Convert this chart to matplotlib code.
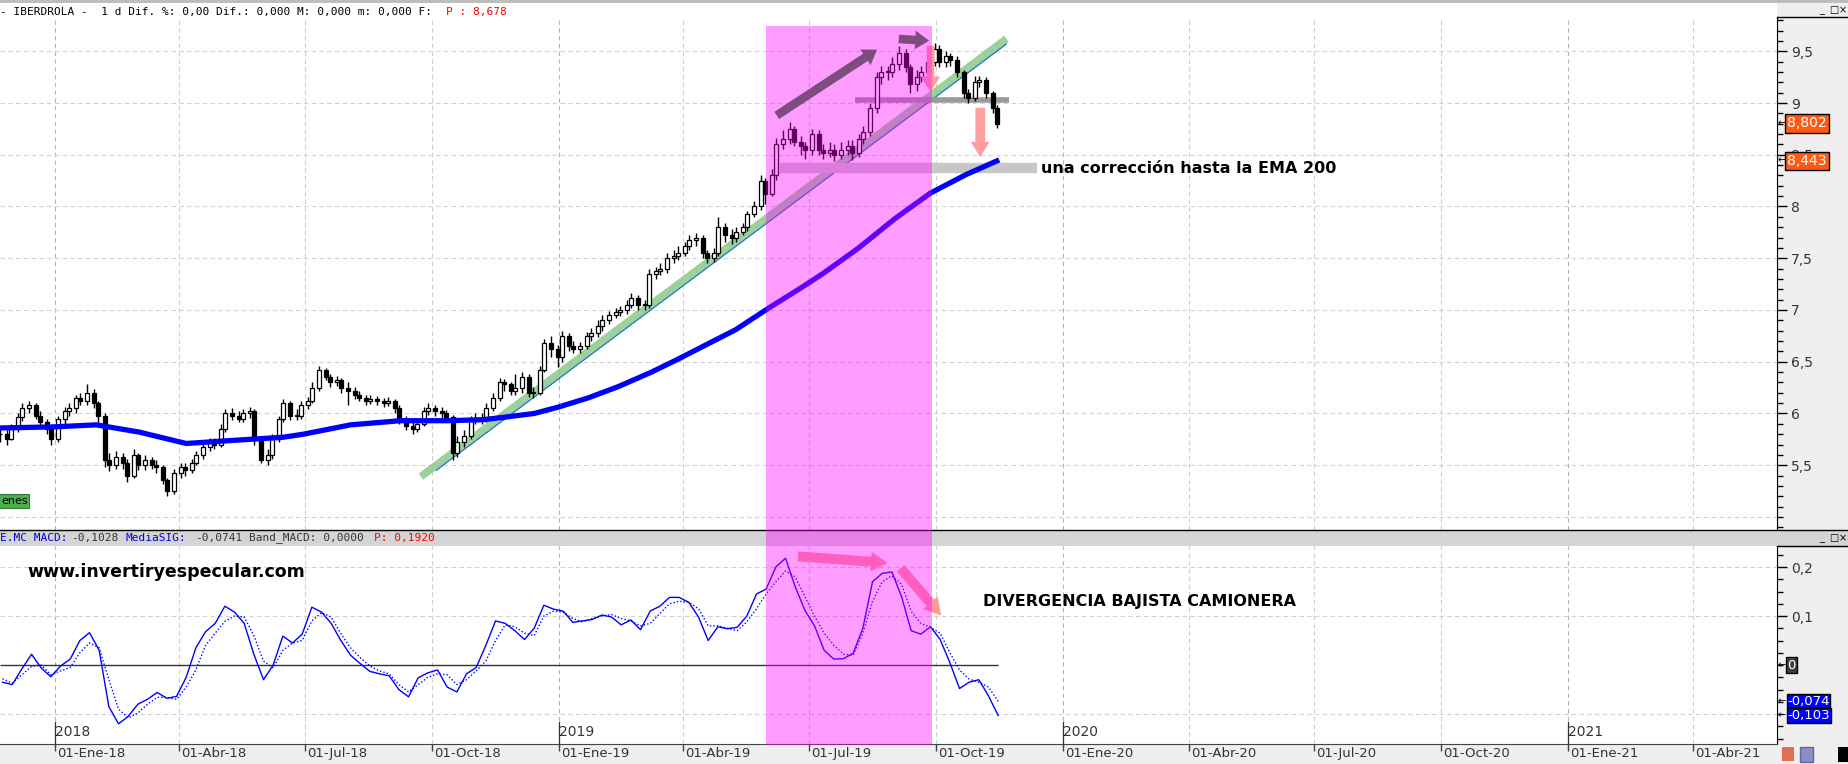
import matplotlib
matplotlib.use('Agg')
import matplotlib.pyplot as plt
import matplotlib.dates as mdates
import matplotlib.transforms as mtransforms
from matplotlib.patches import Rectangle, FancyArrowPatch
from matplotlib.ticker import FuncFormatter, MultipleLocator
import pandas as pd

# --- datos ---------------------------------------------------------------
# IBERDROLA, una vela cada 3 sesiones (cierre, maximo, minimo)
closes = [
    5.80, 5.75, 5.85,                                   # nov-17
    5.97, 6.05, 6.08, 5.98, 5.92, 5.85, 5.75,           # dic-17
    5.95, 6.02, 6.05, 6.15, 6.12, 6.20, 6.10,           # ene-18
    5.98, 5.55, 5.50, 5.58, 5.52, 5.40, 5.60,           # feb-18
    5.50, 5.55, 5.50, 5.48, 5.36, 5.25, 5.42,           # mar-18
    5.48, 5.45, 5.52, 5.60, 5.68, 5.72, 5.70,           # abr-18
    5.85, 6.00, 5.98, 5.95, 6.00, 6.02, 5.75, 5.55,     # may-18
    5.60, 5.75, 5.95, 6.10, 5.98, 5.98, 6.08,           # jun-18
    6.12, 6.25, 6.42, 6.35, 6.30, 6.32, 6.25,           # jul-18
    6.22, 6.18, 6.15, 6.12, 6.14, 6.12, 6.10, 6.12,     # ago-18
    6.05, 5.95, 5.88, 5.85, 5.90, 6.02, 6.05,           # sep-18
    6.02, 6.00, 5.97, 5.62, 5.72, 5.78, 5.95,           # oct-18
    5.95, 5.95, 6.05, 6.15, 6.30, 6.28, 6.22, 6.25,     # nov-18
    6.35, 6.20, 6.20, 6.42, 6.68, 6.62, 6.55,           # dic-18
    6.75, 6.65, 6.62, 6.65, 6.75, 6.78, 6.85,           # ene-19
    6.90, 6.95, 6.98, 7.00, 7.05, 7.12, 7.05,           # feb-19
    7.05, 7.35, 7.38, 7.40, 7.50, 7.52, 7.55,           # mar-19
    7.62, 7.68, 7.70, 7.55, 7.50, 7.55, 7.80,           # abr-19
    7.72, 7.70, 7.75, 7.80, 7.93, 8.00, 8.25, 8.12,     # may-19
    8.30, 8.60, 8.65, 8.75, 8.62, 8.58, 8.55,           # jun-19
    8.70, 8.55, 8.52, 8.55, 8.50, 8.55, 8.58,           # jul-19
    8.52, 8.65, 8.72, 8.95, 9.25, 9.30, 9.30, 9.38,     # ago-19
    9.48, 9.35, 9.18, 9.25, 9.30, 9.40, 9.52,           # sep-19
    9.40, 9.45, 9.42, 9.30, 9.10, 9.05, 9.20,           # oct-19
    9.22, 9.10, 8.95, 8.80,                             # nov-19
]
highs = [
    5.86, 5.84, 5.90,
    6.00, 6.10, 6.12, 6.10, 6.02, 5.95, 5.88,
    5.98, 6.06, 6.10, 6.18, 6.20, 6.28, 6.24,
    6.12, 6.00, 5.62, 5.64, 5.62, 5.56, 5.66,
    5.62, 5.60, 5.58, 5.55, 5.50, 5.38, 5.46,
    5.52, 5.52, 5.56, 5.64, 5.72, 5.76, 5.76,
    5.90, 6.04, 6.05, 6.02, 6.04, 6.06, 6.04, 5.78,
    5.66, 5.80, 5.98, 6.14, 6.12, 6.04, 6.12,
    6.16, 6.30, 6.46, 6.44, 6.38, 6.36, 6.34,
    6.30, 6.26, 6.22, 6.18, 6.18, 6.17, 6.15, 6.16,
    6.14, 6.08, 5.98, 5.92, 5.94, 6.06, 6.10,
    6.08, 6.06, 6.03, 5.99, 5.78, 5.84, 5.98,
    6.00, 6.00, 6.10, 6.20, 6.34, 6.33, 6.30, 6.38,
    6.40, 6.38, 6.26, 6.46, 6.72, 6.75, 6.66,
    6.80, 6.78, 6.70, 6.69, 6.79, 6.83, 6.90,
    6.95, 6.99, 7.02, 7.04, 7.10, 7.16, 7.14,
    7.10, 7.40, 7.42, 7.45, 7.55, 7.58, 7.62,
    7.66, 7.72, 7.74, 7.72, 7.58, 7.60, 7.90,
    7.84, 7.78, 7.80, 7.84, 7.96, 8.05, 8.30, 8.28,
    8.36, 8.66, 8.74, 8.82, 8.78, 8.68, 8.62,
    8.75, 8.74, 8.60, 8.62, 8.60, 8.62, 8.64,
    8.64, 8.70, 8.78, 9.00, 9.30, 9.36, 9.36, 9.44,
    9.55, 9.52, 9.38, 9.32, 9.36, 9.45, 9.58,
    9.56, 9.50, 9.48, 9.45, 9.32, 9.14, 9.26,
    9.26, 9.25, 9.12, 8.98,
]
lows = [
    5.72, 5.70, 5.74,
    5.82, 5.93, 6.00, 5.95, 5.88, 5.80, 5.70,
    5.72, 5.90, 5.98, 6.00, 6.08, 6.08, 6.05,
    5.90, 5.48, 5.44, 5.46, 5.46, 5.34, 5.38,
    5.45, 5.45, 5.46, 5.42, 5.32, 5.20, 5.22,
    5.38, 5.40, 5.42, 5.50, 5.56, 5.64, 5.66,
    5.68, 5.82, 5.94, 5.92, 5.92, 5.96, 5.70, 5.52,
    5.50, 5.56, 5.72, 5.92, 5.94, 5.94, 5.95,
    6.04, 6.10, 6.22, 6.32, 6.26, 6.27, 6.20,
    6.08, 6.14, 6.12, 6.08, 6.09, 6.08, 6.06, 6.07,
    6.00, 5.90, 5.84, 5.80, 5.82, 5.88, 5.99,
    5.98, 5.96, 5.92, 5.55, 5.58, 5.68, 5.75,
    5.90, 5.90, 5.92, 6.02, 6.12, 6.22, 6.18, 6.18,
    6.20, 6.16, 6.15, 6.18, 6.40, 6.55, 6.45,
    6.50, 6.60, 6.58, 6.58, 6.62, 6.70, 6.74,
    6.80, 6.86, 6.92, 6.94, 6.96, 7.02, 7.00,
    7.00, 7.02, 7.30, 7.34, 7.36, 7.45, 7.48,
    7.52, 7.58, 7.62, 7.50, 7.45, 7.46, 7.52,
    7.66, 7.64, 7.66, 7.72, 7.76, 7.90, 7.97, 8.02,
    8.10, 8.26, 8.56, 8.60, 8.58, 8.50, 8.46,
    8.50, 8.50, 8.46, 8.48, 8.44, 8.46, 8.50,
    8.45, 8.48, 8.60, 8.68, 8.90, 9.18, 9.22, 9.25,
    9.32, 9.30, 9.10, 9.12, 9.20, 9.26, 9.36,
    9.35, 9.35, 9.36, 9.25, 9.05, 9.00, 9.02,
    9.15, 9.05, 8.90, 8.76,
]
candle_dates = pd.bdate_range('2017-11-22', periods=len(closes), freq='3B')

# EMA 200
ema_dates = ['2017-11-22', '2017-12-30', '2018-01-31', '2018-03-03', '2018-04-06',
             '2018-05-10', '2018-06-15', '2018-06-30', '2018-08-03', '2018-09-08',
             '2018-10-12', '2018-11-07', '2018-11-20', '2018-12-14', '2018-12-31',
             '2019-01-22', '2019-02-13', '2019-03-09', '2019-03-29', '2019-04-14',
             '2019-05-09', '2019-06-02', '2019-06-26', '2019-07-12', '2019-08-06',
             '2019-09-01', '2019-09-27', '2019-10-23', '2019-11-14']
ema_vals = [5.86, 5.87, 5.89, 5.82, 5.71, 5.74, 5.77, 5.80, 5.89, 5.93,
            5.93, 5.94, 5.96, 6.00, 6.06, 6.15, 6.26, 6.40, 6.53, 6.64,
            6.81, 7.02, 7.22, 7.36, 7.60, 7.88, 8.13, 8.31, 8.44]

# MACD semanal
macd_dates = pd.date_range('2017-11-24', periods=104, freq='W-FRI')
macd = [-0.035, -0.040, -0.008, 0.022, -0.006, -0.024, -0.002, 0.012, 0.050, 0.066,
        0.030, -0.085, -0.120, -0.105, -0.080, -0.070, -0.056, -0.068, -0.064, -0.025,
        0.035, 0.068, 0.085, 0.120, 0.108, 0.085, 0.022, -0.030, 0.000, 0.059,
        0.045, 0.063, 0.118, 0.108, 0.085, 0.050, 0.020, 0.003, -0.013, -0.018,
        -0.022, -0.050, -0.065, -0.026, -0.016, -0.010, -0.045, -0.055, -0.018, -0.005,
        0.040, 0.090, 0.085, 0.070, 0.052, 0.075, 0.122, 0.114, 0.110, 0.087,
        0.090, 0.093, 0.102, 0.098, 0.082, 0.092, 0.072, 0.110, 0.120, 0.138,
        0.138, 0.128, 0.098, 0.050, 0.078, 0.074, 0.077, 0.100, 0.145, 0.155,
        0.200, 0.218, 0.160, 0.112, 0.080, 0.030, 0.012, 0.013, 0.024, 0.075,
        0.170, 0.187, 0.190, 0.140, 0.070, 0.063, 0.078, 0.052, 0.005, -0.048,
        -0.035, -0.030, -0.063, -0.103]
signal = [-0.028, -0.037, -0.020, -0.003, 0.000, -0.020, -0.012, -0.005, 0.025, 0.045,
          0.035, -0.030, -0.090, -0.108, -0.098, -0.080, -0.066, -0.066, -0.070, -0.045,
          -0.010, 0.040, 0.065, 0.089, 0.100, 0.098, 0.060, 0.008, -0.006, 0.030,
          0.045, 0.050, 0.090, 0.107, 0.098, 0.064, 0.035, 0.015, -0.002, -0.012,
          -0.018, -0.040, -0.055, -0.040, -0.025, -0.018, -0.020, -0.040, -0.030, -0.012,
          0.008, 0.050, 0.082, 0.078, 0.065, 0.060, 0.100, 0.110, 0.108, 0.095,
          0.088, 0.095, 0.100, 0.103, 0.095, 0.090, 0.080, 0.085, 0.105, 0.125,
          0.130, 0.128, 0.115, 0.080, 0.080, 0.075, 0.070, 0.088, 0.115, 0.145,
          0.170, 0.192, 0.180, 0.140, 0.100, 0.065, 0.040, 0.022, 0.020, 0.065,
          0.130, 0.170, 0.182, 0.165, 0.110, 0.085, 0.077, 0.065, 0.025, -0.010,
          -0.029, -0.035, -0.045, -0.074]

# ejes
tick_dates = ['2018-01-01', '2018-04-01', '2018-07-01', '2018-10-01', '2019-01-01',
              '2019-04-01', '2019-07-01', '2019-10-01', '2020-01-01', '2020-04-01',
              '2020-07-01', '2020-10-01', '2021-01-01', '2021-04-01']
tick_labels = ['01-Ene-18', '01-Abr-18', '01-Jul-18', '01-Oct-18', '01-Ene-19',
               '01-Abr-19', '01-Jul-19', '01-Oct-19', '01-Ene-20', '01-Abr-20',
               '01-Jul-20', '01-Oct-20', '01-Ene-21', '01-Abr-21']
year_dates = ['2018-01-01', '2019-01-01', '2020-01-01', '2021-01-01']
year_labels = ['2018', '2019', '2020', '2021']

# dibujos sobre el grafico
green_line = (['2018-09-23', '2019-11-21'], [5.39, 9.62])
blue_line = (['2018-10-04', '2019-11-21'], [5.45, 9.57])
bar_high = (['2019-08-03', '2019-11-23'], 9.03)
bar_low = (['2019-06-10', '2019-12-13'], 8.37)
highlight = ('2019-05-31', '2019-09-28')
last_price, last_ema = 8.802, 8.443
last_macd, last_sig = -0.103, -0.074

# --- figura ------------------------------------------------------------------
W, H = 1848, 764
def fx(px): return px / W
def fy(py): return 1 - py / H

fig = plt.figure(figsize=(W / 100, H / 100), dpi=100)
fig.patch.set_facecolor('white')
ax1 = fig.add_axes([0, fy(530), fx(1777), fy(17) - fy(530)])
ax2 = fig.add_axes([0, fy(744), fx(1777), fy(546) - fy(744)], sharex=ax1)

d = lambda s: mdates.date2num(pd.Timestamp(s))

# fondos de la ventana
fig.add_artist(Rectangle((fx(1777), 0), 1 - fx(1777), 1, transform=fig.transFigure,
                         fc='#EFEFEF', ec='none', zorder=-1))
fig.add_artist(Rectangle((0, 0), 1, 20 / H, transform=fig.transFigure,
                         fc='#EFEFEF', ec='none', zorder=-1))
fig.add_artist(Rectangle((0, fy(546)), 1, 16 / H, transform=fig.transFigure,
                         fc='#D4D4D4', ec='none', zorder=0.5))
fig.add_artist(Rectangle((0, fy(3)), 1, 3 / H, transform=fig.transFigure,
                         fc='#BDBDBD', ec='none', zorder=0.5))
fig.add_artist(plt.Line2D([0, 1], [fy(530), fy(530)], transform=fig.transFigure,
                          color='black', lw=1, zorder=0.6))
fig.add_artist(plt.Line2D([fx(1777), 1], [fy(17), fy(17)], transform=fig.transFigure,
                          color='black', lw=1, zorder=0.6))
fig.add_artist(plt.Line2D([fx(1777), 1], [fy(546), fy(546)], transform=fig.transFigure,
                          color='black', lw=1, zorder=0.6))

# --- panel de precios ----------------------------------------------------
opens = [closes[0]] + closes[:-1]
bottoms = [min(o, c) for o, c in zip(opens, closes)]
heights = [max(abs(c - o), 0.006) for o, c in zip(opens, closes)]
fills = ['white' if c >= o else 'black' for o, c in zip(opens, closes)]
ax1.vlines(candle_dates, lows, highs, color='black', lw=1.0, zorder=2.9)
ax1.bar(candle_dates, heights, bottom=bottoms, width=3.0, color=fills,
        edgecolor='black', linewidth=0.9, zorder=3)

ax1.plot(pd.to_datetime(green_line[0]), green_line[1], color='#8CC88A', lw=5.5,
         alpha=0.85, solid_capstyle='butt', zorder=2)
ax1.plot(pd.to_datetime(blue_line[0]), blue_line[1], color='#1F6FC5', lw=0.9, zorder=2.1)
ax1.plot(pd.to_datetime(bar_high[0]), [bar_high[1]] * 2, color='#9A9A9A', lw=4,
         solid_capstyle='butt', zorder=2.2)
ax1.plot(pd.to_datetime(bar_low[0]), [bar_low[1]] * 2, color='#C8C8C8', lw=7.5,
         solid_capstyle='butt', zorder=2.2)
ax1.plot(pd.to_datetime(ema_dates), ema_vals, color='#0000FF', lw=3.8, zorder=4,
         solid_joinstyle='round')

ax1.text(d('2019-12-16'), bar_low[1], 'una corrección hasta la EMA 200', fontsize=11.5,
         fontweight='bold', va='center', ha='left', zorder=6)

for tdt in tick_dates:
    yr = tdt.endswith('01-01')
    for ax in (ax1, ax2):
        ax.axvline(pd.Timestamp(tdt), color='#B4B4B4' if yr else '#CFCFCF', lw=0.8,
                   ls=(0, (4, 3)), zorder=0)
for v in [5.0, 5.5, 6.0, 6.5, 7.0, 7.5, 8.0, 8.5, 9.0, 9.5]:
    ax1.axhline(v, color='#D2D2D2', lw=0.8, ls=(0, (4, 3)), zorder=0)

ax1.set_ylim(4.874, 9.831)
ax1.set_xlim(pd.Timestamp('2017-11-22 04:00'), pd.Timestamp('2021-06-01'))

# --- panel MACD -----------------------------------------------------------
for v in [-0.1, 0.1, 0.2]:
    ax2.axhline(v, color='#D2D2D2', lw=0.8, ls=(0, (4, 3)), zorder=0)
ax2.hlines(0, pd.Timestamp('2017-11-22'), macd_dates[-1], color='#333333', lw=1, zorder=1)
ax2.plot(macd_dates, macd, color='#0000FF', lw=1.0, zorder=3)
ax2.plot(macd_dates, signal, color='#0000FF', lw=1.0, ls=(0, (1, 1.5)), zorder=3)
ax2.set_ylim(-0.1612, 0.2429)

ax2.text(pd.Timestamp('2017-12-12'), 0.19, 'www.invertiryespecular.com', fontsize=12.5,
         fontweight='heavy', va='center', ha='left')
ax2.text(pd.Timestamp('2019-11-04'), 0.13, 'DIVERGENCIA BAJISTA CAMIONERA', fontsize=11.5,
         fontweight='bold', va='center', ha='left')

tb = mtransforms.blended_transform_factory(ax2.transData, ax2.transAxes)
for ydt, ylab in zip(year_dates, year_labels):
    ax2.plot([pd.Timestamp(ydt)] * 2, [0, 0.11], transform=tb, color='#333333', lw=0.9,
             clip_on=False, zorder=5)
    ax2.text(pd.Timestamp(ydt), 0.025, ylab, transform=tb, fontsize=10, color='#333333',
             ha='left', va='bottom')

# --- ejes y etiquetas -------------------------------------------------------
comma = FuncFormatter(lambda v, p: f'{v:g}'.replace('.', ','))
for ax in (ax1, ax2):
    for s in ('left', 'top'):
        ax.spines[s].set_visible(False)
    ax.spines['right'].set_color('black')
    ax.yaxis.tick_right()
    ax.yaxis.set_major_formatter(comma)
    ax.tick_params(axis='y', which='major', length=7, width=1, labelsize=10,
                   labelcolor='#333333', pad=3)
    ax.tick_params(axis='y', which='minor', length=4, width=1)
ax1.spines['bottom'].set_visible(False)
ax1.yaxis.set_minor_locator(MultipleLocator(0.1))
ax1.set_yticks([5.5, 6, 6.5, 7, 7.5, 8, 8.5, 9, 9.5])
ax1.tick_params(axis='x', bottom=False, labelbottom=False)
ax2.set_yticks([0.1, 0.2])
ax2.yaxis.set_minor_locator(MultipleLocator(0.025))
ax2.spines['bottom'].set_color('#444444')
ax2.set_xticks(pd.to_datetime(tick_dates))
ax2.set_xticklabels(tick_labels, ha='left', fontsize=9.5, color='#333333')
ax2.tick_params(axis='x', length=5, width=1, color='#444444', pad=-2.5)
shift = mtransforms.ScaledTranslation(2 / 100, 0, fig.dpi_scale_trans)
for lab in ax2.get_xticklabels():
    lab.set_transform(lab.get_transform() + shift)

def tag(ax, val, text, fc, fs=10, pad=0.15):
    t = mtransforms.blended_transform_factory(ax.transAxes, ax.transData)
    ax.text(1.0058, val, text, transform=t, color='white', fontsize=fs, va='center',
            ha='left', clip_on=False, zorder=10,
            bbox=dict(boxstyle=f'square,pad={pad}', fc=fc, ec='black', lw=1))
    ax.text(1.0004, val, '←', transform=t, fontsize=7, va='center', ha='left',
            clip_on=False, zorder=10)

tag(ax1, last_price, '8,802', '#FF5A14')
tag(ax1, last_ema, '8,443', '#FF5A14')
tag(ax2, 0, '0', '#404040', fs=9.5, pad=0.1)
tag(ax2, last_sig, '-0,074', '#0000FF', fs=9.5, pad=0.05)
tag(ax2, last_macd, '-0,103', '#0000FF', fs=9.5, pad=0.05)

# --- zona resaltada y flechas ---------------------------------------------
tfig = mtransforms.blended_transform_factory(ax1.transData, fig.transFigure)
x0, x1 = d(highlight[0]), d(highlight[1])
fig.add_artist(Rectangle((x0, fy(745)), x1 - x0, fy(26) - fy(745), transform=tfig,
                         fc='#FF00FF', alpha=0.39, ec='none', zorder=3))

def arrow(ax, a, b, color, tw, hw, hl, z=2.5):
    p = FancyArrowPatch((d(a[0]), a[1]), (d(b[0]), b[1]), transform=ax.transData,
                        arrowstyle=f'simple,head_width={hw},head_length={hl},tail_width={tw}',
                        mutation_scale=10, color=color, lw=0, zorder=z)
    fig.add_artist(p)

arrow(ax1, ('2019-06-06', 8.865), ('2019-08-21', 9.53), '#7F4C7F', 0.62, 1.35, 1.0, z=4)
arrow(ax1, ('2019-09-02', 9.62), ('2019-09-28', 9.60), '#7F4C7F', 0.62, 1.35, 1.0, z=4)
arrow(ax1, ('2019-09-27', 9.58), ('2019-09-27', 9.08), '#FF9E9E', 0.55, 1.4, 1.1)
arrow(ax1, ('2019-11-02', 8.98), ('2019-11-02', 8.45), '#FF9E9E', 0.7, 1.35, 1.1)
arrow(ax2, ('2019-06-21', 0.222), ('2019-08-29', 0.208), '#FF9A9A', 0.72, 1.4, 1.2)
arrow(ax2, ('2019-09-04', 0.202), ('2019-10-06', 0.097), '#FF9A9A', 0.72, 1.4, 1.2)

# --- textos de cabecera ----------------------------------------------------
mono = 'DejaVu Sans Mono'
fig.text(0, fy(12), '- IBERDROLA -  1 d Dif. %: 0,00 Dif.: 0,000 M: 0,000 m: 0,000 F:',
         fontsize=8, family=mono, va='center', ha='left')
fig.text(fx(446), fy(12), 'P : 8,678', fontsize=8, family=mono, va='center', color='red')
head = [(0, 'E.MC MACD:', '#0000E0'), (71, '-0,1028', '#333333'),
        (125, 'MediaSIG:', '#0000E0'), (195, '-0,0741', '#333333'),
        (249, 'Band_MACD: 0,0000', '#333333'), (374, 'P: 0,1920', 'red')]
for px, s, c in head:
    fig.text(fx(px), fy(538), s, fontsize=8, family=mono, va='center', color=c, zorder=2)

fig.text(fx(1), fy(501), 'enes', fontsize=8, va='center', ha='left',
         bbox=dict(boxstyle='square,pad=0.15', fc='#4CB04C', ec='#2E7D32', lw=0.8))

# botones de ventana e iconos
for yb in (4, 532):
    for i, g in enumerate(['_', '□', '×']):
        fig.text(fx(1819 + i * 10), fy(yb + 6), g, fontsize=7, va='center', ha='left')
fig.add_artist(Rectangle((fx(1778), 0), 1 - fx(1778), 19 / H, transform=fig.transFigure,
                         fc='#EFEFEF', ec='none', zorder=6))
fig.add_artist(Rectangle((fx(1782), fy(761)), 12 / W, 14 / H, transform=fig.transFigure,
                         fc='#E07050', ec='none', zorder=7))
fig.add_artist(Rectangle((fx(1800), fy(762)), 13 / W, 15 / H, transform=fig.transFigure,
                         fc='#8C8CC8', ec='#666699', zorder=7))
fig.add_artist(Rectangle((fx(1838), fy(762)), 10 / W, 15 / H, transform=fig.transFigure,
                         fc='black', ec='none', zorder=7))

fig.savefig('out.png', dpi=100)
